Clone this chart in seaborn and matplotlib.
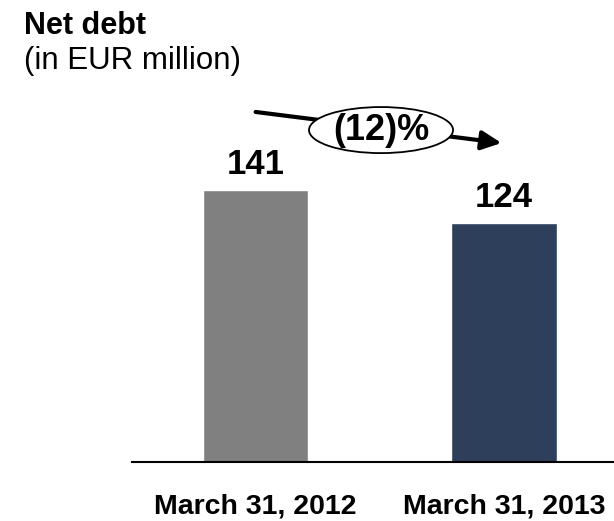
import matplotlib
matplotlib.use("Agg")
import matplotlib.pyplot as plt
from matplotlib.patches import Ellipse, FancyArrowPatch
import seaborn as sns
import pandas as pd

# Net debt at period end (EUR million)
periods = ["March 31, 2012", "March 31, 2013"]
net_debt = [141, 124]
bar_colors = ["#808080", "#2D3F5B"]
change_label = "(12)%"

sns.set_theme(style="white")
plt.rcParams["font.family"] = ["Liberation Sans", "DejaVu Sans"]

df = pd.DataFrame({"period": periods, "net_debt": net_debt})

fig = plt.figure(figsize=(6.14, 5.21), dpi=100)
ax = fig.add_axes([132 / 614, 59.5 / 521, 482 / 614, 366.5 / 521])

sns.barplot(data=df, x="period", y="net_debt", hue="period",
            palette=bar_colors, width=0.425, legend=False,
            saturation=1, ax=ax)

ax.set_xlim(-0.4976, 1.443)
ax.set_ylim(0, 190.2)

for container in ax.containers:
    ax.bar_label(container, fmt="%d", padding=6, fontsize=25,
                 fontweight="bold", color="black")

# axes styling: only a baseline below the bars
for side in ["left", "right", "top"]:
    ax.spines[side].set_visible(False)
ax.spines["bottom"].set_color("black")
ax.spines["bottom"].set_linewidth(1.5)
ax.set_yticks([])
ax.set_xlabel("")
ax.set_ylabel("")
ax.tick_params(axis="x", length=0, pad=23)
for lbl in ax.get_xticklabels():
    lbl.set_fontsize(20.5)
    lbl.set_fontweight("bold")
    lbl.set_color("black")

# change arrow with the percentage bubble
arrow = FancyArrowPatch((0.0, 181.4), (0.99, 165.3),
                        arrowstyle="-|>,head_length=4.8,head_width=2.3",
                        mutation_scale=2.5, linewidth=3, color="black",
                        shrinkA=0, shrinkB=0, clip_on=False, zorder=3)
ax.add_patch(arrow)
bubble = Ellipse((0.505, 172.0), width=0.58, height=23.9,
                 facecolor="white", edgecolor="black", linewidth=1.3,
                 clip_on=False, zorder=4)
ax.add_patch(bubble)
ax.text(0.505, 172.0, change_label, ha="center", va="center",
        fontsize=26, fontweight="bold", color="black", zorder=5)

# heading
fig.text(24 / 614, 1 - 34.5 / 521, "Net debt", fontsize=22,
         fontweight="bold", color="black", va="baseline", ha="left")
fig.text(24 / 614, 1 - 68.5 / 521, "(in EUR million)", fontsize=22.5,
         color="black", va="baseline", ha="left")

fig.savefig("out.png", dpi=100)
